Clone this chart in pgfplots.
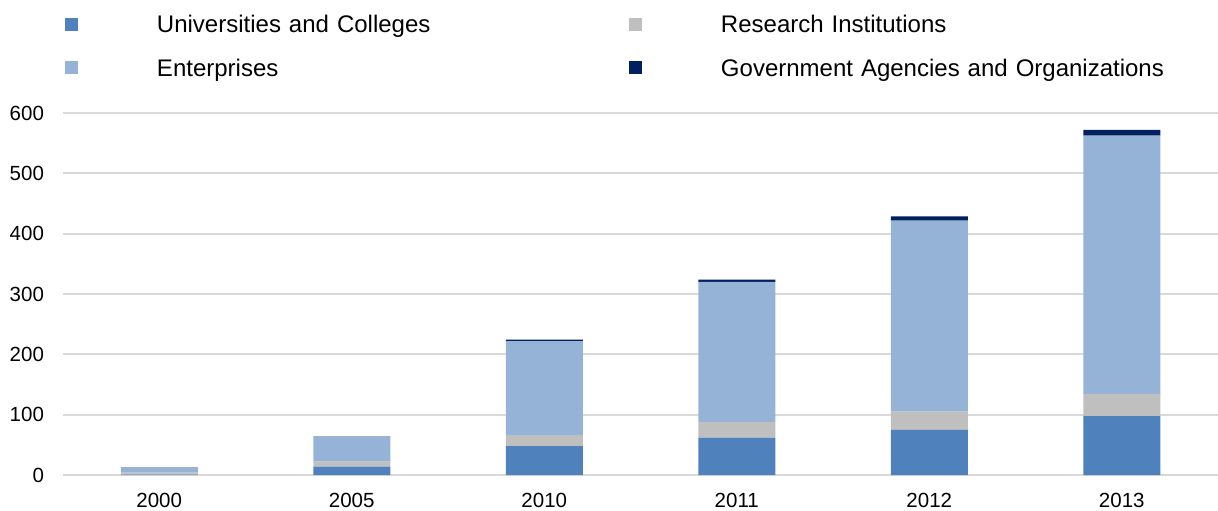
\documentclass[border=0pt]{standalone}
\usepackage{pgfplots}
\pgfplotsset{compat=1.18}
\usepackage{fontspec}
\setmainfont{Liberation Sans}
\definecolor{cUni}{HTML}{4F81BD}
\definecolor{cRes}{HTML}{BFBFBF}
\definecolor{cEnt}{HTML}{95B3D7}
\definecolor{cGov}{HTML}{002060}
\definecolor{cGrid}{HTML}{D9D9D9}
\begin{document}
\begin{tikzpicture}
\useasboundingbox (0,0) rectangle (609pt,255pt);
\begin{axis}[
  at={(31.5pt,17.5pt)}, anchor=south west,
  scale only axis, width=577.5pt, height=181pt,
  ybar stacked, bar width=0.4,
  xmin=-0.5, xmax=5.5, ymin=0, ymax=600,
  enlargelimits=false,
  xtick={0,1,2,3,4,5},
  xticklabels={2000,2005,2010,2011,2012,2013},
  ytick={0,100,...,600},
  ymajorgrids, grid style={cGrid, line width=1pt},
  axis line style={draw=none},
  major tick length=0pt,
  /pgf/number format/assume math mode=true,
  ticklabel style={font=\fontsize{10.25}{12}\selectfont, text=black},
  xticklabel style={yshift=-5.5pt},
  yticklabel style={xshift=-6pt},
  legend columns=2,
  legend style={draw=none, fill=none, inner sep=0pt, outer sep=0pt,
    at={(0.00173,1.2696)}, anchor=north west,
    font=\fontsize{12}{14}\selectfont,
    nodes={inner sep=0pt, text height=8.6pt, text depth=0pt, text width=236pt, align=left},
    cells={anchor=west},
    column sep=0pt, row sep=13.15pt,
    /tikz/every odd column/.append style={column sep=39.5pt}},
]
\addplot[fill=cUni, draw=none, legend image code/.code={\fill[cUni] (0pt,-3.25pt) rectangle (6.5pt,3.25pt);}]
  coordinates {(0,0.8) (1,14) (2,48) (3,62) (4,75) (5,97.5)};
\addlegendentry{Universities and Colleges}
\addplot[fill=cRes, draw=none, legend image code/.code={\fill[cRes] (0pt,-3.25pt) rectangle (6.5pt,3.25pt);}]
  coordinates {(0,3) (1,8) (2,18) (3,26) (4,30) (5,37)};
\addlegendentry{Research Institutions}
\addplot[fill=cEnt, draw=none, legend image code/.code={\fill[cEnt] (0pt,-3.25pt) rectangle (6.5pt,3.25pt);}]
  coordinates {(0,9) (1,41.5) (2,155.5) (3,232) (4,316.5) (5,428)};
\addlegendentry{Enterprises}
\addplot[fill=cGov, draw=none, legend image code/.code={\fill[cGov] (0pt,-3.25pt) rectangle (6.5pt,3.25pt);}]
  coordinates {(0,0.2) (1,0.5) (2,3) (3,4) (4,7) (5,9.5)};
\addlegendentry{Government Agencies and Organizations}
\end{axis}
\end{tikzpicture}
\end{document}
